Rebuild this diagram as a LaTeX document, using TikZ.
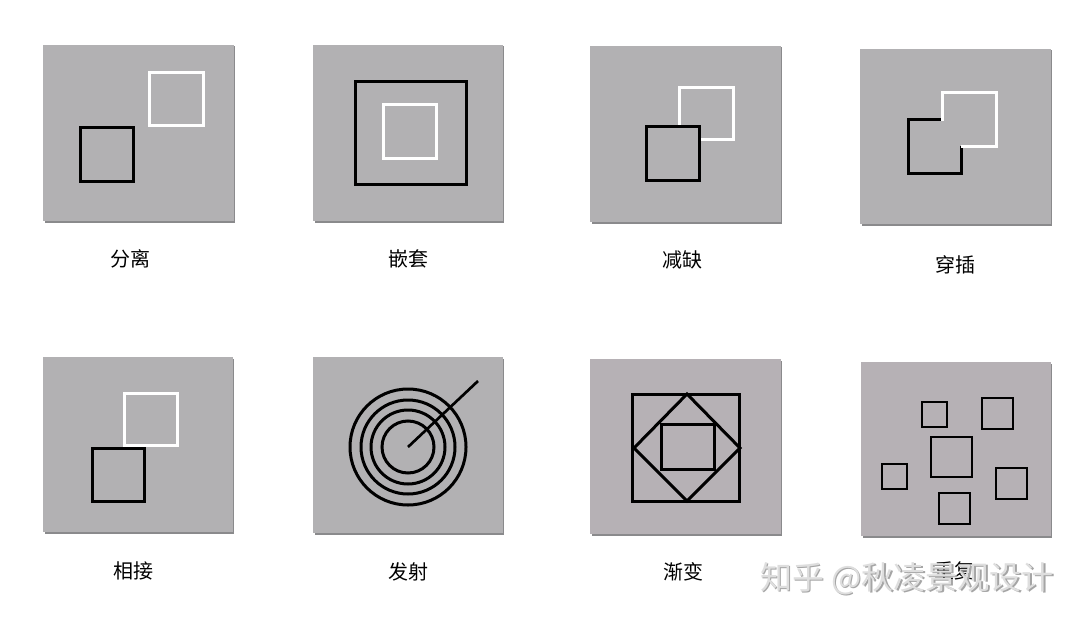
\documentclass[tikz,border=0pt]{standalone}
\usepackage{fontspec}
\newfontfamily\cjk{Noto Sans CJK SC}
\definecolor{panelgray}{RGB}{178,177,179}
\definecolor{panelpink}{RGB}{182,177,181}
\definecolor{edgegray}{RGB}{138,138,140}
\definecolor{markgray}{RGB}{222,222,222}
\definecolor{markshade}{RGB}{165,165,165}

\tikzset{every picture/.style={line width=0.75pt},
  panel/.style={fill=panelgray},
  pinkpanel/.style={fill=panelpink},
  panelshadow/.style={fill=edgegray},
  blk/.style={draw=black, line width=2.25pt, line join=miter},
  wht/.style={draw=white, line width=2.25pt, line join=miter},
  thinblk/.style={draw=black, line width=1.5pt},
  caption/.style={inner sep=0.75pt, font=\cjk\fontsize{15}{18}\selectfont},
  wmark/.style={inner sep=0.75pt, font=\cjk\fontsize{24}{28}\selectfont}}

\begin{document}
\begin{tikzpicture}[x=0.75pt,y=0.75pt,yscale=-1,xscale=1]
\path[use as bounding box, fill=white] (0,0) rectangle (1080,624);

%Shape: Rectangle [panel 1] 
\path [panelshadow] (44.5,46.5) rectangle (235,222.5) ;
\path [panel] (43,45) rectangle (234,221) ;
\draw [wht] (149,73) rectangle (203,126) ;
\draw [blk] (80,128) rectangle (133,181) ;

%Shape: Rectangle [panel 2] 
\path [panelshadow] (314.5,46.5) rectangle (504,222.5) ;
\path [panel] (313,45) rectangle (503,221) ;
\draw [blk] (355,82) rectangle (466,184) ;
\draw [wht] (383,105) rectangle (436,158) ;

%Shape: Rectangle [panel 3] 
\path [panelshadow] (591.5,47.5) rectangle (782,223.5) ;
\path [panel] (590,46) rectangle (781,222) ;
\draw [wht] (679,88) rectangle (733,140) ;
\draw [blk, fill=panelgray] (646,127) rectangle (699,180) ;

%Shape: Rectangle [panel 4] 
\path [panelshadow] (861.5,50.5) rectangle (1052,225.5) ;
\path [panel] (860,49) rectangle (1051,224) ;
\draw [blk] (942,120) -- (908,120) -- (908,173) -- (961,173) -- (961,146) ;
\draw [wht] (961,147) -- (996,147) -- (996,93) -- (942,93) -- (942,121) ;

%Shape: Rectangle [panel 5] 
\path [panelshadow] (44.5,358.5) rectangle (234,533.5) ;
\path [panel] (43,357) rectangle (233,532) ;
\draw [wht] (124,393) rectangle (177,445) ;
\draw [blk] (92,448) rectangle (144,501) ;

%Shape: Rectangle [panel 6] 
\path [panelshadow] (314.5,358.5) rectangle (504,534.5) ;
\path [panel] (313,357) rectangle (503,533) ;
\foreach \r in {26,37,47,58}
  \draw [blk] (408,447) circle (\r) ;
\draw [blk, line width=2pt] (408,447) -- (478,381) ;

%Shape: Rectangle [panel 7] 
\path [panelshadow] (591.5,360.5) rectangle (782,535.5) ;
\path [pinkpanel] (590,359) rectangle (781,534) ;
\draw [blk] (632,394) rectangle (739,501) ;
\draw [blk] (687,394) -- (740,448) -- (687,501) -- (634,448) -- cycle ;
\draw [blk] (661,424) rectangle (714,469) ;

%Shape: Rectangle [panel 8] 
\path [panelshadow] (862.5,363.5) rectangle (1052,537.5) ;
\path [pinkpanel] (861,362) rectangle (1051,536) ;
\draw [thinblk] (922,402) rectangle (947,427) ;
\draw [thinblk] (982,398) rectangle (1013,429) ;
\draw [thinblk, line width=2pt] (931,437) rectangle (972,477) ;
\draw [thinblk] (882,464) rectangle (907,489) ;
\draw [thinblk] (996,468) rectangle (1027,499) ;
\draw [thinblk] (939,493) rectangle (970,524) ;

% Text Node
\draw (130,259) node [caption] (lblA) {分离};
% Text Node
\draw (408,259) node [caption] (lblB) {嵌套};
% Text Node
\draw (682,260) node [caption] (lblC) {减缺};
% Text Node
\draw (955,265) node [caption] (lblD) {穿插};
% Text Node
\draw (133,571) node [caption] (lblE) {相接};
% Text Node
\draw (408,572) node [caption] (lblF) {发射};
% Text Node
\draw (683,572) node [caption] (lblG) {渐变};
% Text Node
\draw (954,571) node [caption] (lblH) {重复};

% Text Node
\draw (908.5,580) node [wmark, text=markshade] (wmshade) {知乎 @秋凌景观设计};
\draw (907,578.5) node [wmark, text=markgray] (wm) {知乎 @秋凌景观设计};

\end{tikzpicture}
\end{document}
